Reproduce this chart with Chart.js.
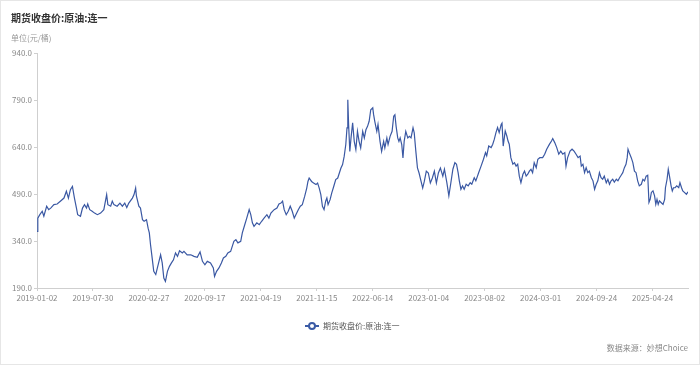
<!DOCTYPE html>
<html>
<head>
<meta charset="utf-8">
<script src="https://cdn.jsdelivr.net/npm/chart.js@4/dist/chart.umd.min.js"></script>
<style>
  html, body { margin: 0; padding: 0; background: #fff; }
  #wrap { position: relative; width: 700px; height: 365px; box-sizing: border-box; border: 1px solid #e6e6e6; overflow: hidden; font-family: "Noto Sans CJK SC", "Noto Sans", sans-serif; }
  #c { position: absolute; left: -1px; top: -1px; }
  .title { position: absolute; left: 10px; top: 9px; font-size: 10px; font-weight: bold; color: #333; white-space: nowrap; }
  .unit { position: absolute; left: 10px; top: 31px; font-size: 8px; color: #999; white-space: nowrap; }
  .legend { position: absolute; left: 304px; top: 319px; font-size: 8px; color: #555; white-space: nowrap; display: flex; align-items: center; }
  .legend .icon { position: relative; width: 14px; height: 10px; margin-right: 4px; }
  .legend .icon .ln { position: absolute; left: 0; top: 4px; width: 14px; height: 2px; background: #3b5ba5; }
  .legend .icon .pt { position: absolute; left: 3px; top: 1px; width: 4px; height: 4px; border: 2px solid #3b5ba5; border-radius: 50%; background: #fff; }
  .source { position: absolute; right: 11px; top: 341px; font-size: 8px; color: #888; white-space: nowrap; }
</style>
</head>
<body>
<div id="wrap">
  <canvas id="c" width="700" height="365"></canvas>
  <div class="title">期货收盘价:原油:连一</div>
  <div class="unit">单位(元/桶)</div>
  <div class="legend"><span class="icon"><span class="ln"></span><span class="pt"></span></span><span>期货收盘价:原油:连一</span></div>
  <div class="source">数据来源：妙想Choice</div>
</div>
<script>
// Labelled dates on the category (trading-day) axis
const tickDates = ['2019-01-02','2019-07-30','2020-02-27','2020-09-17','2021-04-19','2021-11-15','2022-06-14','2023-01-04','2023-08-02','2024-03-01','2024-09-24','2025-04-24'];
const tickStep = 139;      // trading days between labelled dates
const lastDay = 1617;      // index of last trading day shown
const yMin = 190, yMax = 940, yStep = 150;

// Sampled trading-day index and close price (元/桶)
const sampleDay = [
0,2,7,13,17,24,29,34,42,50,58,67,73,78,83,88,93,98,101,108,113,118,123,126,131,137,143,150,158,166,
173,176,183,187,191,199,206,212,218,223,228,237,241,245,247,253,257,262,266,272,276,279,282,286,290,295,299,303,307,311,
315,319,324,329,334,339,344,349,354,361,365,373,382,390,398,405,411,417,423,431,438,441,446,452,458,463,469,474,481,489,
494,499,506,
510,516,521,527,531,535,539,546,552,558,564,571,576,581,589,596,601,606,610,614,619,624,629,634,639,643,649,654,659,665,
670,673,676,682,687,693,697,701,705,709,713,717,720,723,728,732,737,742,747,751,755,759,763,767,770,772,774,777,780,784,
788,792,796,800,804,809,813,817,821,825,829,834,836,839,844,847,852,856,861,864,869,872,877,882,886,889,892,896,899,902,
906,909,912,916,921,925,929,934,937,941,945,949,954,958,962,967,972,977,982,987,992,997,1002,
1008,1012,1018,1023,1028,1033,1038,1042,1046,1049,1053,1057,1061,1066,1071,1076,1080,1086,1090,1097,
1103,1109,1114,1117,1122,1128,1132,1136,1140,1144,1148,1153,1155,1158,1163,1167,1170,1173,1177,1182,
1186,1190,1194,1198,1202,1207,1211,1215,1219,1223,1227,1231,1235,1240,1244,1249,1256,1261,1266,1273,
1278,1281,1286,1291,1296,1301,1306,1311,1314,1318,1324,1329,1334,1339,1344,1349,1352,1356,1360,1364,
1368,1372,1377,1381,1385,1389,1393,1397,1401,1405,1409,1414,1418,1422,1426,1430,1434,1439,1443,1447,
1451,1455,1459,1463,1466,1468,1471,1476,1480,1484,1488,1492,1496,1501,1505,1509,1513,1517,1520,1523,
1526,1530,1534,1537,1540,1543,1546,1550,1555,1559,1561,1565,1568,1571,1575,1578,1581,1585,1589,1594,
1597,1601,1604,1608,1613,1617
];
const closePrice = [
371,413,424,435,419,451,440,445,456,458,467,477,499,477,504,514,477,445,424,419,445,456,445,458,440,435,429,424,429,440,
488,456,451,467,456,451,461,451,461,447,461,477,488,509,483,451,445,408,403,408,381,366,328,286,243,233,254,275,296,270,
222,211,243,259,270,280,302,291,309,302,307,296,296,291,288,305,275,264,275,270,254,227,243,254,270,286,291,302,307,339,
344,334,339,
366,392,413,440,424,398,387,398,392,403,413,424,413,429,440,445,458,461,467,440,424,435,451,435,413,424,440,451,456,483,
509,530,541,530,525,520,525,509,488,451,440,467,477,456,472,493,514,536,541,557,573,584,610,648,701,791,712,626,669,717,
658,632,690,658,637,690,669,695,706,722,759,765,744,722,690,712,658,626,658,637,669,648,674,690,738,743,706,669,658,669,
648,605,658,690,669,674,669,701,685,626,573,557,530,509,530,563,557,525,541,563,525,557,573,
547,569,526,484,526,569,590,585,558,532,505,516,505,521,516,526,521,542,532,558,
579,601,622,612,643,638,649,665,686,702,686,712,716,643,691,675,659,649,606,585,
590,579,585,547,526,553,563,547,553,563,569,558,590,574,601,606,606,617,633,649,
659,667,654,638,617,627,617,622,579,606,627,633,627,617,606,611,579,585,558,574,
558,563,542,532,505,521,532,558,542,537,547,526,537,521,532,537,528,537,532,542,
550,558,574,585,606,633,622,606,590,563,558,532,516,521,537,532,547,550,463,473,
495,500,484,457,473,457,468,463,457,473,510,537,569,547,516,500,510,510,516,510,
526,510,500,495,489,497
];

const points = sampleDay.map((d, i) => ({ x: d, y: closePrice[i] }));
const axisColor = '#cfcfcf';
const labelFont = { family: '"Noto Sans CJK SC", "Noto Sans", sans-serif', size: 8 };

new Chart(document.getElementById('c'), {
  type: 'line',
  data: {
    datasets: [{
      label: '期货收盘价:原油:连一',
      data: points,
      borderColor: '#3a58a3',
      borderWidth: 1.2,
      pointRadius: 0,
      tension: 0,
      fill: false
    }]
  },
  options: {
    responsive: false,
    animation: false,
    devicePixelRatio: 1,
    layout: { padding: { left: 0, top: 53, right: 12, bottom: 0 } },
    plugins: { legend: { display: false }, tooltip: { enabled: false } },
    scales: {
      x: {
        type: 'linear',
        min: 0,
        max: lastDay,
        afterBuildTicks: (axis) => { axis.ticks = tickDates.map((_, i) => ({ value: i * tickStep })); },
        afterFit: (scale) => { scale.height = 77; },
        grid: { display: true, drawOnChartArea: false, drawTicks: true, tickLength: 3, color: axisColor },
        border: { display: true, color: axisColor },
        ticks: {
          autoSkip: false, maxRotation: 0, minRotation: 0, padding: 2,
          color: '#888', font: labelFont,
          callback: (v) => tickDates[Math.round(v / tickStep)]
        }
      },
      y: {
        min: yMin,
        max: yMax,
        afterFit: (scale) => { scale.width = 37; },
        grid: { display: true, drawOnChartArea: false, drawTicks: true, tickLength: 3, color: axisColor },
        border: { display: true, color: axisColor },
        ticks: {
          stepSize: yStep, padding: 2, color: '#888', font: labelFont,
          callback: (v) => v.toFixed(1)
        }
      }
    }
  }
});
</script>
</body>
</html>
